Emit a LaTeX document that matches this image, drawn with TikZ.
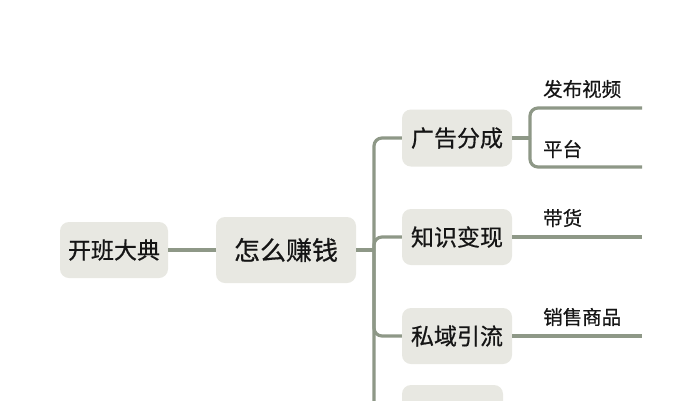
\documentclass[tikz,border=0pt]{standalone}
\usepackage{fontspec}
\setmainfont{Noto Sans CJK SC}[FakeBold=0.6]
\definecolor{linec}{HTML}{8E9887}
\definecolor{boxc}{HTML}{E8E8E2}
\definecolor{txtc}{HTML}{151515}
\begin{document}
\begin{tikzpicture}[x=1pt,y=-1pt,
  box/.style={fill=boxc, rounded corners=9pt, inner sep=0pt, text=txtc, font=\fontsize{23}{26}\selectfont},
  lbl/.style={anchor=west, inner sep=0pt, text=txtc, font=\fontsize{19.5}{22}\selectfont},
  conn/.style={draw=linec, line width=3.2pt, rounded corners=8pt}]
\useasboundingbox (0,0) rectangle (699,400);
\clip (0,0) rectangle (699,400);
\fill[white] (0,0) rectangle (699,400);
% nodes
\node[box, minimum width=108pt, minimum height=56pt] (root) at (114,250) {开班大典};
\node[box, minimum width=140pt, minimum height=66pt, font=\fontsize{26}{30}\selectfont] (zm) at (286,250) {怎么赚钱};
\node[box, minimum width=110pt, minimum height=57pt] (gg) at (457,138) {广告分成};
\node[box, minimum width=110pt, minimum height=56pt] (zs) at (457,237) {知识变现};
\node[box, minimum width=110pt, minimum height=56pt] (sy) at (457,336) {私域引流};
\node[box, minimum width=101pt, minimum height=56pt] (b4) at (452.5,413) {};
% coordinates
\coordinate (t) at (374,250);
\coordinate (g1) at (530,138);
\coordinate (e1) at (642,108);
\coordinate (e2) at (642,167);
\coordinate (e3) at (642,237);
\coordinate (e4) at (642,336);
% connectors
\draw[conn] (root.east) -- (zm.west);
\draw[conn] (zm.east) -- (t);
\draw[conn] (gg.west) -| (t);
\draw[conn] (zs.west) -| (t);
\draw[conn] (sy.west) -| (t);
\draw[conn] (b4.west) -| (t);
\draw[conn] (gg.east) -- (g1);
\draw[conn] (g1) |- (e1);
\draw[conn] (g1) |- (e2);
\draw[conn] (zs.east) -- (e3);
\draw[conn] (sy.east) -- (e4);
% labels
\node[lbl] (l1) at (543,89) {发布视频};
\node[lbl] (l2) at (543,149) {平台};
\node[lbl] (l3) at (543,218) {带货};
\node[lbl] (l4) at (543,317) {销售商品};
\end{tikzpicture}
\end{document}
